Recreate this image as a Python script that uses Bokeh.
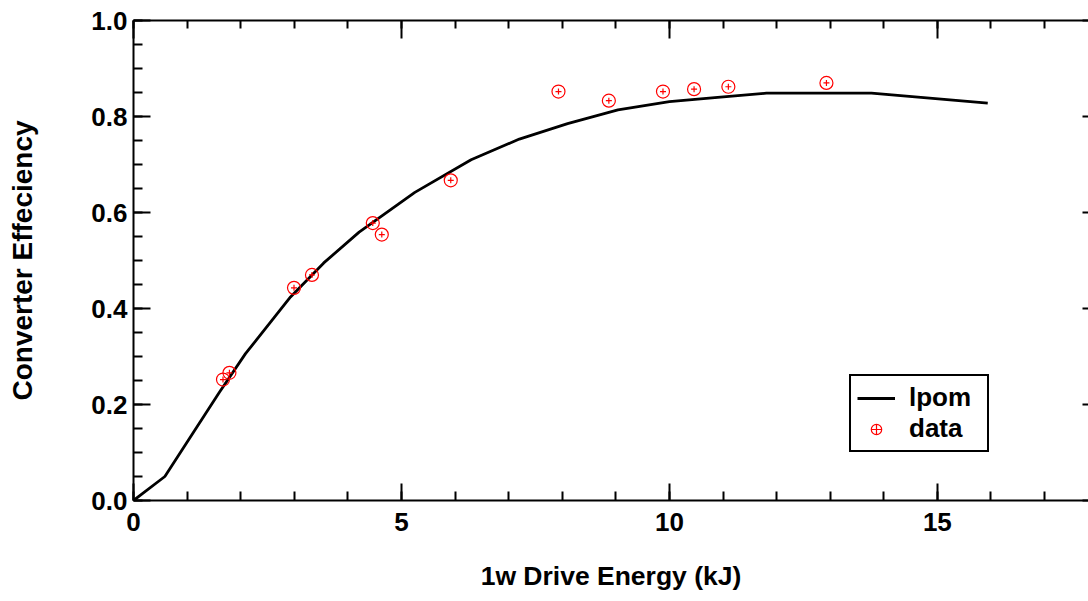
from bokeh.plotting import figure
from bokeh.models import (SingleIntervalTicker, LinearAxis, Legend, LegendItem,
                          Range1d, CustomJSTickFormatter)
from bokeh.embed import file_html
from bokeh.resources import INLINE

# lpom model curve
lpom_x = [0.0, 0.585, 1.05, 1.6, 2.09, 2.93, 3.55, 4.21, 5.25, 6.30, 7.20, 8.1, 9.04, 10.0, 10.9, 11.81, 12.76, 13.77, 15.94]
lpom_y = [0.0, 0.050, 0.130, 0.225, 0.306, 0.424, 0.495, 0.559, 0.642, 0.710, 0.753, 0.785, 0.814, 0.831, 0.840, 0.8485, 0.8485, 0.8485, 0.828]

# measured data
data_x = [1.67, 1.79, 2.995, 3.33, 4.465, 4.633, 5.92, 7.93, 8.87, 9.88, 10.46, 11.10, 12.93]
data_y = [0.252, 0.266, 0.443, 0.470, 0.578, 0.554, 0.667, 0.852, 0.833, 0.852, 0.857, 0.862, 0.870]

x_label = "1w Drive Energy (kJ)"
y_label = "Converter Effeciency"

FONT = "Liberation Sans"

p = figure(width=1088, height=601, output_backend="svg", toolbar_location=None,
           x_range=Range1d(0, 17.82), y_range=Range1d(0, 1.0),
           x_axis_type=None, y_axis_type=None,
           min_border_left=133, min_border_top=20, min_border_bottom=101, min_border_right=0)
p.outline_line_color = None
p.background_fill_color = "white"
p.border_fill_color = "white"

xt = SingleIntervalTicker(interval=5, num_minor_ticks=5)
yt = SingleIntervalTicker(interval=0.2, num_minor_ticks=4)
blank = CustomJSTickFormatter(code="return '';")

def style(ax, mj, mn):
    ax.axis_line_width = 2
    ax.axis_line_color = "black"
    ax.major_tick_line_color = "black"
    ax.minor_tick_line_color = "black"
    ax.major_tick_line_width = 2
    ax.minor_tick_line_width = 2
    ax.major_tick_in = mj
    ax.major_tick_out = 0
    ax.minor_tick_in = mn
    ax.minor_tick_out = 0
    ax.major_label_text_font = FONT
    ax.major_label_text_font_style = "bold"
    ax.major_label_text_color = "black"
    ax.axis_label_text_font = FONT
    ax.axis_label_text_font_style = "bold"
    ax.axis_label_text_color = "black"

bx = LinearAxis(ticker=xt, axis_label=x_label)
style(bx, 17, 9)
bx.major_label_text_font_size = "26px"
bx.axis_label_text_font_size = "26.5px"
bx.major_label_standoff = 12
bx.axis_label_standoff = 27
p.add_layout(bx, "below")

ly = LinearAxis(ticker=yt, axis_label=y_label)
style(ly, 17, 9)
ly.major_label_text_font_size = "26px"
ly.axis_label_text_font_size = "28px"
ly.major_label_standoff = 6
ly.axis_label_standoff = 50
ly.formatter = CustomJSTickFormatter(code="return tick.toFixed(1);")
p.add_layout(ly, "left")

tx = LinearAxis(ticker=xt, formatter=blank)
style(tx, 18, 8)
tx.major_label_standoff = 0
tx.major_label_text_font_size = "0px"
p.add_layout(tx, "above")

ry = LinearAxis(ticker=yt, formatter=blank)
style(ry, 6, 0)
ry.axis_line_color = None
ry.minor_tick_line_color = None
ry.major_label_standoff = 0
ry.major_label_text_font_size = "0px"
p.add_layout(ry, "right")

r_line = p.line(lpom_x, lpom_y, line_color="black", line_width=2.8)
r_circ = p.scatter(data_x, data_y, marker="circle", size=13, fill_color=None,
                   line_color="red", line_width=1.2)
r_cross = p.scatter(data_x, data_y, marker="cross", size=6, line_color="red", line_width=1.2)

legend = Legend(items=[LegendItem(label="lpom", renderers=[r_line]),
                       LegendItem(label="data", renderers=[r_circ, r_cross])],
                location=(716, 48))
legend.label_text_font = FONT
legend.label_text_font_style = "bold"
legend.label_text_font_size = "26px"
legend.label_text_color = "black"
legend.border_line_color = "black"
legend.border_line_alpha = 1
legend.border_line_width = 2
legend.background_fill_alpha = 1
legend.glyph_width = 38
legend.glyph_height = 26
legend.label_height = 26
legend.label_width = 72
legend.label_standoff = 14
legend.padding = 6
legend.spacing = 0
legend.margin = 0
p.add_layout(legend, "center")

open("out.html", "w").write(file_html(p, INLINE))
